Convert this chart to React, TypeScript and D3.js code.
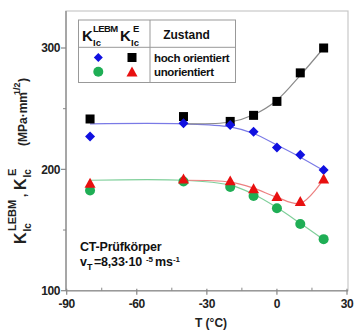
import React from "react";
import * as d3 from "d3";

const temps = [-80, -40, -20, -10, 0, 10, 20];
const kLebmHoch = [227, 238, 236.5, 231, 218, 212, 199.5];
const kEHoch = [241.5, 243.5, 239.5, 244.5, 256, 279.5, 300];
const kLebmUnor = [182.5, 190, 185.5, 178, 168, 155, 142.5];
const kEUnor = [188.5, 192, 190.5, 184, 177.5, 173.5, 192];

const fitTempsFull = [-80, -40, -20, -10, 0, 10, 20];
const fitTempsPart = [-40, -20, -10, 0, 10, 20];
const fitLebmHoch = [237.5, 237.5, 235, 229.5, 220, 210, 199];
const fitEHoch = [237.5, 239, 245, 257, 277.5, 300];
const fitLebmUnor = [191, 191, 187, 179.5, 168.5, 155.5, 142];
const fitEUnor = [191, 189.5, 184.5, 177, 172, 192];

const xTicks = [-90, -60, -30, 0, 30];
const xMinor = [-75, -45, -15, 15];
const yTicks = [100, 200, 300];
const yMinor = [150, 250];

const FONT = "'Liberation Sans', Arial, sans-serif";

export default function App() {
  const x = d3.scaleLinear().domain([-90, 30]).range([66.7, 347]);
  const y = d3.scaleLinear().domain([100, 300]).range([290.7, 48]);
  const left = 66, right = 348, top = 11, bottom = 290.7;

  const line = d3
    .line<[number, number]>()
    .x((d) => x(d[0]))
    .y((d) => y(d[1]))
    .curve(d3.curveCatmullRom.alpha(0.5));

  const zip = (a: number[], b: number[]) => a.map((v, i) => [v, b[i]] as [number, number]);

  const diamond = (cx: number, cy: number, s = 5) =>
    `M${cx},${cy - s}L${cx + s},${cy}L${cx},${cy + s}L${cx - s},${cy}Z`;
  const tri = (cx: number, cy: number, s = 5.5) =>
    `M${cx},${cy - s}L${cx + s},${cy + s * 0.8}L${cx - s},${cy + s * 0.8}Z`;

  const blue = "#1010e0";
  const green = "#1fae55";
  const red = "#e81010";

  return (
    <svg width={364} height={335} style={{ position: "absolute", left: 0, top: 0, background: "#fff" }} fontFamily={FONT}>
      {/* frame */}
      <rect x={left} y={top} width={right - left} height={bottom - top} fill="none" stroke="#c8c8c8" strokeWidth={1.2} />
      {/* axes */}
      <line x1={left} x2={left} y1={top} y2={bottom} stroke="#999" strokeWidth={1.6} />
      <line x1={left} x2={right} y1={bottom} y2={bottom} stroke="#999" strokeWidth={1.6} />
      {yTicks.map((t) => (
        <g key={"yt" + t}>
          <line x1={left - 5} x2={left} y1={y(t)} y2={y(t)} stroke="#888" strokeWidth={1.2} />
          <text x={left - 6} y={y(t) + 4.2} textAnchor="end" fontSize={12} fontWeight="bold" letterSpacing={-0.4} fill="#222">
            {t}
          </text>
        </g>
      ))}
      {yMinor.map((t) => (
        <line key={"ym" + t} x1={left - 3} x2={left} y1={y(t)} y2={y(t)} stroke="#888" strokeWidth={1} />
      ))}
      {xTicks.map((t) => (
        <g key={"xt" + t}>
          <line x1={x(t)} x2={x(t)} y1={bottom - 2} y2={bottom + 4} stroke="#888" strokeWidth={1.2} />
          <text x={x(t)} y={bottom + 17} textAnchor="middle" fontSize={12} fontWeight="bold" letterSpacing={-0.4} fill="#222">
            {t}
          </text>
        </g>
      ))}
      {xMinor.map((t) => (
        <line key={"xm" + t} x1={x(t)} x2={x(t)} y1={bottom - 3} y2={bottom} stroke="#888" strokeWidth={1} />
      ))}
      <text x={211} y={327} textAnchor="middle" fontSize={12} fontWeight="bold" fill="#222">
        T (°C)
      </text>

      {/* y label */}
      <g transform="translate(26,244) rotate(-90)" fill="#222" fontWeight="bold">
        <text x={0} y={0} fontSize={16}>K</text>
        <text x={12.5} y={5} fontSize={10}>Ic</text>
        <text x={13} y={-10} fontSize={11}>LEBM</text>
        <text x={47} y={0} fontSize={12}>,</text>
        <text x={54} y={0} fontSize={16}>K</text>
        <text x={66.5} y={5} fontSize={10}>Ic</text>
        <text x={68} y={-10} fontSize={11}>E</text>
        <text x={98} y={1} fontSize={12}>(MPa·mm</text>
        <text x={149} y={-6} fontSize={9}>1/2</text>
        <text x={162} y={1} fontSize={12}>)</text>
      </g>

      {/* fit lines */}
      <path d={line(zip(fitTempsFull, fitLebmHoch)) || ""} fill="none" stroke="#7a7ae6" strokeWidth={1.2} />
      <path d={line(zip(fitTempsPart, fitEHoch)) || ""} fill="none" stroke="#8a8a8a" strokeWidth={1.2} />
      <path d={line(zip(fitTempsFull, fitLebmUnor)) || ""} fill="none" stroke="#7fcf9a" strokeWidth={1.2} />
      <path d={line(zip(fitTempsPart, fitEUnor)) || ""} fill="none" stroke="#ec8080" strokeWidth={1.2} />

      {/* markers */}
      {temps.map((t, i) => (
        <rect key={"sq" + i} x={x(t) - 4.5} y={y(kEHoch[i]) - 4.5} width={9} height={9} fill="#000" />
      ))}
      {temps.map((t, i) => (
        <path key={"dm" + i} d={diamond(x(t), y(kLebmHoch[i]))} fill={blue} />
      ))}
      {temps.map((t, i) => (
        <circle key={"ci" + i} cx={x(t)} cy={y(kLebmUnor[i])} r={5} fill={green} />
      ))}
      {temps.map((t, i) => (
        <path key={"tr" + i} d={tri(x(t), y(kEUnor[i]))} fill={red} />
      ))}

      {/* legend */}
      <g>
        <rect x={78.5} y={20} width={157} height={62.5} fill="#fff" stroke="#999" strokeWidth={1} />
        <line x1={78.5} x2={235.5} y1={47.3} y2={47.3} stroke="#999" strokeWidth={1} />
        <line x1={150} x2={150} y1={20} y2={82.5} stroke="#999" strokeWidth={1} />
        <g fill="#111" fontWeight="bold">
          <text x={82} y={41} fontSize={15}>K</text>
          <text x={93} y={45.5} fontSize={9.5}>Ic</text>
          <text x={93} y={31.5} fontSize={9.5} letterSpacing={-0.6}>LEBM</text>
          <text x={120} y={41} fontSize={15}>K</text>
          <text x={131} y={45.5} fontSize={9.5}>Ic</text>
          <text x={133} y={31.5} fontSize={9.5}>E</text>
        </g>
        <text x={186.5} y={38.5} textAnchor="middle" fontSize={12} fontWeight="bold" fill="#111">Zustand</text>
        <path d={diamond(98.3, 57.5, 4.5)} fill={blue} />
        <rect x={127.5} y={53} width={9} height={9} fill="#000" />
        <circle cx={98.3} cy={71.7} r={5} fill={green} />
        <path d={tri(132, 72)} fill={red} />
        <text x={154} y={61.5} fontSize={11.5} fontWeight="bold" letterSpacing={-0.35} fill="#111">hoch orientiert</text>
        <text x={154} y={76} fontSize={11.5} fontWeight="bold" letterSpacing={-0.35} fill="#111">unorientiert</text>
      </g>

      {/* annotation */}
      <text x={80} y={250.5} fontSize={12.5} fontWeight="bold" letterSpacing={-0.2} fill="#111">CT-Prüfkörper</text>
      <g fill="#111" fontWeight="bold" letterSpacing={-0.2}>
        <text x={80} y={265.5} fontSize={12.5}>v</text>
        <text x={87} y={270} fontSize={9}>T</text>
        <text x={94} y={265.5} fontSize={12.5}>=8,33·10</text>
        <text x={146} y={261.5} fontSize={8}>-5</text>
        <text x={155} y={265.5} fontSize={12.5}>ms</text>
        <text x={173} y={261.5} fontSize={8}>-1</text>
      </g>
    </svg>
  );
}
